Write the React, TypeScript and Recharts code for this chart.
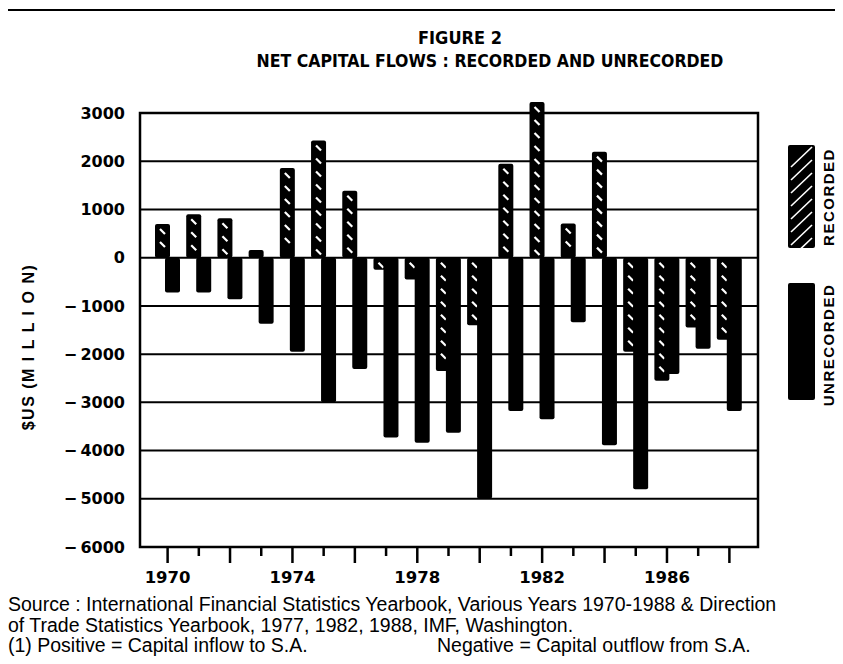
import React from 'react';
import { BarChart, Bar, XAxis, YAxis, CartesianGrid, ReferenceArea, Legend } from 'recharts';

const years = ['1970', '1971', '1972', '1973', '1974', '1975', '1976', '1977', '1978', '1979', '1980', '1981', '1982', '1983', '1984', '1985', '1986', '1987', '1988'];
const recorded = [700, 900, 820, 160, 1860, 2430, 1390, -250, -450, -2350, -1400, 1950, 3230, 710, 2200, -1950, -2550, -1450, -1700];
const unrecorded = [-720, -720, -860, -1370, -1950, -3000, -2310, -3730, -3840, -3630, -5000, -3180, -3350, -1340, -3890, -4800, -2410, -1890, -3180];
const yTicks = [3000, 2000, 1000, 0, -1000, -2000, -3000, -4000, -5000, -6000];
const labeledYears = ['1970', '1974', '1978', '1982', '1986'];
const seriesNames = ['RECORDED', 'UNRECORDED'];
const figureLabel = 'FIGURE 2';
const title = 'NET CAPITAL FLOWS : RECORDED AND UNRECORDED';
const yAxisTitle = '$US (M I L L I O N)';
const sourceLines = [
  'Source : International Financial Statistics Yearbook, Various Years 1970-1988 & Direction',
  'of Trade Statistics Yearbook, 1977, 1982, 1988, IMF, Washington.',
];
const noteLeft = '(1) Positive = Capital inflow to S.A.';
const noteRight = 'Negative = Capital outflow from S.A.';

const data = years.map((year, i) => ({ year, recorded: recorded[i], unrecorded: unrecorded[i] }));

const SANS = '"Liberation Sans", Arial, Helvetica, sans-serif';
const WIDE = '"DejaVu Sans", Verdana, sans-serif';
const NARROW = '"Liberation Sans Narrow", "DejaVu Sans Condensed", "Liberation Sans", sans-serif';

const HatchedBar = (props: any) => {
  const { x, y, width, height } = props;
  if (x == null || y == null || !width) return null;
  const top = Math.min(y, y + height);
  const h = Math.abs(height);
  const cx = x + width / 2;
  const dashes: any[] = [];
  for (let k = top + 5; k + 7 < top + h; k += 13) {
    dashes.push(<line key={k} x1={cx - 2.5} y1={k} x2={cx + 2.5} y2={k + 5} stroke="#fff" strokeWidth={2.2} />);
  }
  return (
    <g>
      <rect x={x} y={top} width={width} height={h} fill="#000" rx={2} />
      {dashes}
    </g>
  );
};

const SolidBar = (props: any) => {
  const { x, y, width, height } = props;
  if (x == null || y == null || !width) return null;
  const top = Math.min(y, y + height);
  const h = Math.abs(height);
  return <rect x={x} y={top} width={width} height={h} fill="#000" rx={2} />;
};

const YearTick = (props: any) => {
  const { x, y, payload } = props;
  const v = String(payload.value);
  const long = Number(v) % 2 === 0;
  return (
    <g>
      <line x1={x} y1={y} x2={x} y2={y + (long ? 16 : 9)} stroke="#000" strokeWidth={2.5} />
      {labeledYears.includes(v) ? (
        <text x={x} y={y + 30} textAnchor="middle" dominantBaseline="central" fill="#000" fontFamily={WIDE} fontWeight="bold" fontSize={16.5}>
          {v}
        </text>
      ) : null}
    </g>
  );
};

const LegendContent = () => {
  const stripes: any[] = [];
  for (let i = 0; i < 8; i++) {
    const yb = 5 + 22 + i * 13;
    stripes.push(<line key={i} x1={9} y1={yb} x2={30} y2={yb - 20} stroke="#fff" strokeWidth={1.6} />);
  }
  return (
    <svg width={60} height={290} style={{ display: 'block' }}>
      <defs>
        <clipPath id="lgclip">
          <rect x={6} y={5} width={27} height={103} />
        </clipPath>
      </defs>
      <rect x={6} y={5} width={27} height={103} fill="#000" rx={2} />
      <g clipPath="url(#lgclip)">{stripes}</g>
      <text
        transform="translate(46,57) rotate(-90)"
        textAnchor="middle"
        dominantBaseline="central"
        fontFamily={SANS}
        fontWeight="bold"
        fontSize={15}
        letterSpacing={1.5}
      >
        {seriesNames[0]}
      </text>
      <rect x={6} y={143} width={27} height={117} fill="#000" rx={2} />
      <text
        transform="translate(46,205) rotate(-90)"
        textAnchor="middle"
        dominantBaseline="central"
        fontFamily={SANS}
        fontWeight="bold"
        fontSize={15}
        letterSpacing={1.5}
      >
        {seriesNames[1]}
      </text>
    </svg>
  );
};

const YTitle = () => (
  <text
    transform="translate(28,347) rotate(-90)"
    textAnchor="middle"
    dominantBaseline="central"
    fontFamily={SANS}
    fontWeight="bold"
    fontSize={16}
    letterSpacing={1.5}
    fill="#000"
  >
    {yAxisTitle}
  </text>
);

export default function App() {
  return (
    <div style={{ position: 'relative', width: 843, height: 664, margin: -8, background: '#fff', overflow: 'hidden' }}>
      <div style={{ position: 'absolute', left: 3, top: 9, width: 900, height: 660, borderTop: '2px solid #000', borderLeft: '2px solid #000' }} />
      <div style={{ position: 'absolute', left: 3, top: 656, width: 392, height: 0, borderTop: '2px solid #000' }} />

      <div style={{ position: 'absolute', left: 0, top: 28, width: 920, textAlign: 'center', fontFamily: NARROW, fontWeight: 'bold', fontSize: 18, lineHeight: '20px' }}>
        {figureLabel}
      </div>
      <div style={{ position: 'absolute', left: 0, top: 51, width: 980, textAlign: 'center', fontFamily: NARROW, fontWeight: 'bold', fontSize: 17.5, lineHeight: '20px' }}>
        {title}
      </div>

      <div style={{ position: 'absolute', left: 0, top: 0 }}>
        <BarChart
          width={843}
          height={664}
          data={data}
          margin={{ top: 101, right: 85, bottom: 87, left: 80 }}
          barSize={15}
          barGap={-5}
        >
          <CartesianGrid vertical={false} horizontalValues={yTicks} stroke="#000" strokeWidth={2} />
          <XAxis
            dataKey="year"
            interval={0}
            height={30}
            padding={{ left: 12, right: 13 }}
            axisLine={false}
            tickLine={false}
            tickSize={0}
            tickMargin={0}
            tick={<YearTick />}
          />
          <XAxis xAxisId="frame" dataKey="year" hide />
          <YAxis
            width={60}
            domain={[-6000, 3250]}
            ticks={yTicks}
            interval={0}
            axisLine={false}
            tickLine={false}
            tickMargin={9}
            tickFormatter={(v: number) => (v < 0 ? '\u2212\u2009' + Math.abs(v) : String(v))}
            tick={{ fill: '#000', fontFamily: WIDE, fontWeight: 'bold', fontSize: 16 }}
            label={{ content: () => <YTitle /> }}
          />
          <ReferenceArea xAxisId="frame" y1={-6000} y2={3000} fill="none" stroke="#000" strokeWidth={2.5} strokeOpacity={1} fillOpacity={0} />
          <Legend
            layout="vertical"
            align="center"
            verticalAlign="middle"
            content={() => <LegendContent />}
            wrapperStyle={{ position: 'absolute', left: 782, top: 140, width: 60, height: 290 }}
          />
          <Bar dataKey="recorded" name={seriesNames[0]} fill="#000" shape={<HatchedBar />} isAnimationActive={false} />
          <Bar dataKey="unrecorded" name={seriesNames[1]} fill="#000" shape={<SolidBar />} isAnimationActive={false} />
        </BarChart>
      </div>

      <div style={{ position: 'absolute', left: 8, top: 594, fontFamily: SANS, fontSize: 19.5, lineHeight: '20.5px', color: '#000', whiteSpace: 'nowrap' }}>
        <div>{sourceLines[0]}</div>
        <div>{sourceLines[1]}</div>
        <div style={{ position: 'relative' }}>
          <span>{noteLeft}</span>
          <span style={{ position: 'absolute', left: 429 }}>{noteRight}</span>
        </div>
      </div>
    </div>
  );
}
